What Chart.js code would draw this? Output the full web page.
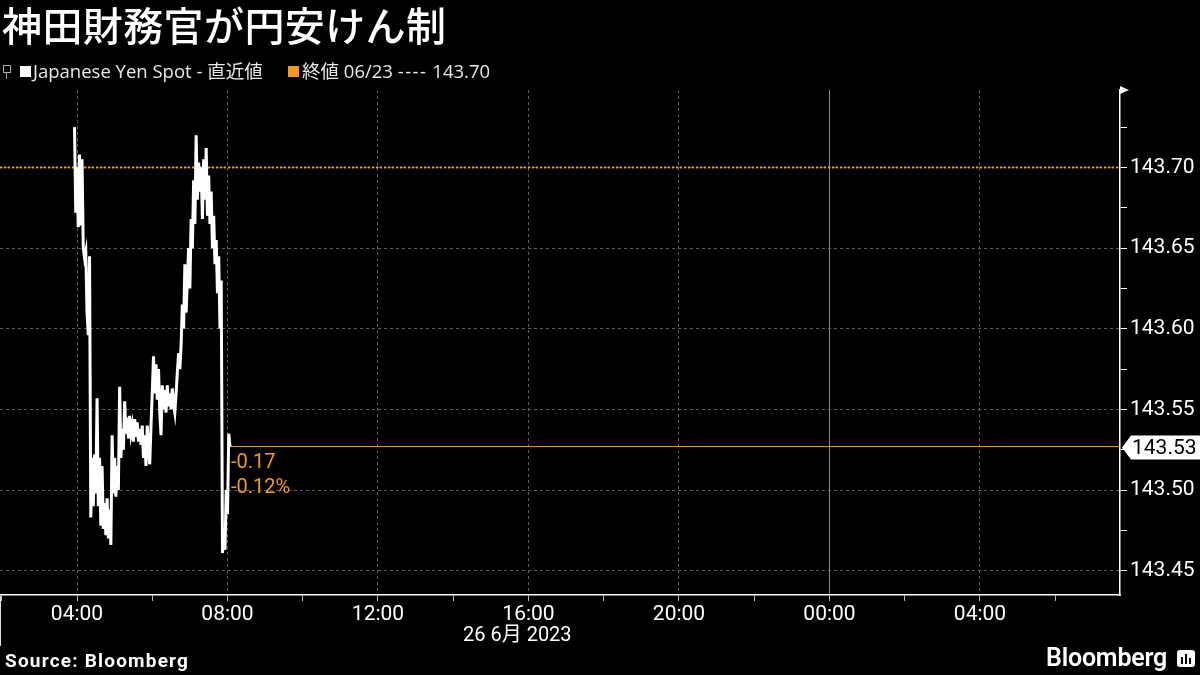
<!DOCTYPE html>
<html>
<head>
<meta charset="utf-8">
<script src="https://cdn.jsdelivr.net/npm/chart.js@4.4.0/dist/chart.umd.min.js"></script>
<style>
  html, body { margin:0; padding:0; background:#000; }
  body { width:1200px; height:675px; overflow:hidden; position:relative; font-family: Roboto, "Noto Sans CJK JP", sans-serif; }
  .abs { position:absolute; white-space:nowrap; }
  #c { position:absolute; left:0; top:0; }
</style>
</head>
<body>
<canvas id="c" width="1200" height="675"></canvas>
<div class="abs" style="left:2px;top:-5px;font:500 40px 'Noto Sans CJK JP';color:#fff;letter-spacing:0.4px;">神田財務官が円安けん制</div>
<div class="abs" style="left:3px;top:65px;width:6px;height:6px;border:1px solid #aaa;"></div>
<div class="abs" style="left:6px;top:73px;width:1px;height:6px;background:#aaa;"></div>
<div class="abs" style="left:20px;top:66px;width:11px;height:11px;background:#fff;"></div>
<div class="abs" style="left:33px;top:58px;font:18.5px 'Open Sans','Noto Sans CJK JP';color:#e8e8e8;line-height:25px;">Japanese Yen Spot - 直近値</div>
<div class="abs" style="left:288px;top:66px;width:11px;height:11px;background:#f39a1e;"></div>
<div class="abs" style="left:302px;top:58px;font:18.5px 'Open Sans','Noto Sans CJK JP';color:#e8e8e8;line-height:25px;">終値 06/23 <span style="letter-spacing:1.5px">----</span> 143.70</div>
<div class="abs" style="left:0px;top:596px;width:1px;height:50px;background:#ddd;"></div>
<div class="abs" style="left:463px;top:621px;font:20px Roboto,'Noto Sans CJK JP';color:#fff;line-height:26px;">26 6月 2023</div>
<div class="abs" style="left:5px;top:650px;font:bold 19px Roboto;color:#fff;line-height:22px;letter-spacing:1.2px;">Source: Bloomberg</div>
<div class="abs" style="left:1046px;top:644px;font:600 25px Roboto;color:#fff;line-height:28px;letter-spacing:-0.2px;">Bloomberg</div>
<div class="abs" style="left:1177px;top:650px;width:18px;height:17px;background:#fff;border-radius:3px;">
  <div class="abs" style="left:4px;top:7px;width:2px;height:7px;background:#000;"></div>
  <div class="abs" style="left:8px;top:4px;width:2px;height:10px;background:#000;"></div>
  <div class="abs" style="left:12px;top:8px;width:2px;height:6px;background:#000;"></div>
</div>
<script>
// ---- data (minutes since 00:00, 26 June 2023) ----
const startMinute = 236;
const stepMinutes = 2;
const prices = [
  143.725,143.672,143.700,143.663,143.708,143.664,143.705,143.650,143.644,143.648,
  143.610,143.596,143.645,143.483,143.520,143.490,143.522,143.498,143.557,143.490,
  143.520,143.478,143.515,143.476,143.492,143.472,143.495,143.470,143.488,143.466,
  143.534,143.498,143.520,143.496,143.515,143.500,143.564,143.520,143.538,143.525,
  143.555,143.535,143.545,143.532,143.546,143.535,143.540,143.530,143.544,143.533,
  143.542,143.530,143.538,143.528,143.540,143.520,143.534,143.515,143.540,143.525,
  143.516,143.540,143.560,143.583,143.560,143.578,143.556,143.575,143.548,143.534,
  143.565,143.550,143.562,143.548,143.565,143.552,143.560,143.550,143.563,143.553,
  143.548,143.560,143.573,143.585,143.575,143.590,143.615,143.600,143.640,143.610,
  143.630,143.650,143.625,143.668,143.650,143.692,143.665,143.720,143.680,143.703,
  143.685,143.700,143.668,143.705,143.680,143.712,143.670,143.695,143.665,143.685,
  143.650,143.670,143.640,143.655,143.622,143.645,143.600,143.630,143.461,143.475,
  143.463,143.500,143.485,143.535,143.527
];
const prevClose = 143.70;
const xMin = 117.2, xMax = 1903.3;
const yMin = 143.435, yMax = 143.748;
const xTicks = [120, 240, 360, 480, 600, 720, 840, 960, 1080, 1200, 1320, 1440, 1560, 1680, 1800];
const xMajorTicks = [240, 480, 720, 960, 1200, 1440, 1680];
const xTickLabels = ['04:00', '08:00', '12:00', '16:00', '20:00', '00:00', '04:00'];
const dayBoundary = 1440;
const yTicks = [143.45, 143.475, 143.50, 143.525, 143.55, 143.575, 143.60, 143.625, 143.65, 143.675, 143.70, 143.725];
const yMajorTicks = [143.45, 143.50, 143.55, 143.60, 143.65, 143.70];

const ORANGE = '#f39a1e';
const series = prices.map((v, i) => ({ x: startMinute + i * stepMinutes, y: v }));
const lastPt = series[series.length - 1];
const lastVal = lastPt.y;

const overlay = {
  id: 'overlay',
  afterDatasetsDraw(chart) {
    const { ctx, chartArea, scales: { x, y } } = chart;
    ctx.save();
    ctx.fillStyle = '#fff';
    ctx.beginPath();
    ctx.moveTo(chartArea.right, chartArea.top - 4);
    ctx.lineTo(chartArea.right + 9, chartArea.top);
    ctx.lineTo(chartArea.right, chartArea.top + 4);
    ctx.closePath();
    ctx.fill();
    const ly = Math.round(y.getPixelForValue(lastVal)) + 0.5;
    const rx = chartArea.right;
    ctx.beginPath();
    ctx.moveTo(rx + 2, ly);
    ctx.lineTo(rx + 11, ly - 12);
    ctx.lineTo(1200, ly - 12);
    ctx.lineTo(1200, ly + 12);
    ctx.lineTo(rx + 11, ly + 12);
    ctx.closePath();
    ctx.fill();
    ctx.fillStyle = '#000';
    ctx.font = '21px Roboto';
    ctx.textAlign = 'left';
    ctx.textBaseline = 'middle';
    ctx.fillText(lastVal.toFixed(2), rx + 12, ly + 1);
    const lx = x.getPixelForValue(lastPt.x);
    const diff = lastVal - prevClose;
    const pct = diff / prevClose * 100;
    ctx.fillStyle = ORANGE;
    ctx.font = '20px Roboto';
    ctx.fillText(diff.toFixed(2), lx + 1, ly + 15);
    ctx.fillText(pct.toFixed(2) + '%', lx + 1, ly + 40);
    ctx.restore();
  }
};

const isMajorY = v => yMajorTicks.some(m => Math.abs(m - v) < 1e-6);

new Chart(document.getElementById('c'), {
  type: 'line',
  data: {
    datasets: [
      { data: series, borderColor: '#fff', borderWidth: 3, pointRadius: 0, tension: 0, order: 0 },
      { data: [{ x: xMin, y: prevClose }, { x: xMax, y: prevClose }], borderColor: ORANGE, borderWidth: 2, borderDash: [2, 2], pointRadius: 0, order: 2 },
      { data: [{ x: lastPt.x, y: lastVal }, { x: xMax, y: lastVal }], borderColor: '#e89a55', borderWidth: 1, pointRadius: 0, order: 1 }
    ]
  },
  options: {
    responsive: false,
    animation: false,
    devicePixelRatio: 1,
    layout: { padding: { top: 90, left: 0, right: 0, bottom: 0 } },
    plugins: { legend: { display: false }, tooltip: { enabled: false } },
    scales: {
      x: {
        type: 'linear', min: xMin, max: xMax,
        afterFit: s => { s.height = 80; },
        afterBuildTicks: s => { s.ticks = xTicks.map(v => ({ value: v })); },
        ticks: {
          autoSkip: false, maxRotation: 0,
          color: '#fff', font: { family: 'Roboto', size: 21 }, padding: 1,
          callback: v => { const k = xMajorTicks.indexOf(v); return k >= 0 ? xTickLabels[k] : ''; }
        },
        grid: {
          color: c => c.tick && c.tick.value === dayBoundary ? '#8a8a8a' : (c.tick && xMajorTicks.includes(c.tick.value) ? '#5e5e5e' : 'rgba(0,0,0,0)'),
          lineWidth: 1, tickColor: '#bbb', tickLength: 6, drawTicks: true
        },
        border: { display: true, color: '#fff', width: 1.5, dash: c => (c.tick && c.tick.value === dayBoundary) ? [] : [3, 3] }
      },
      y: {
        type: 'linear', position: 'right', min: yMin, max: yMax,
        afterFit: s => { s.width = 80; },
        afterBuildTicks: s => { s.ticks = yTicks.map(v => ({ value: v })); },
        ticks: {
          autoSkip: false,
          color: '#fff', font: { family: 'Roboto', size: 21 }, padding: 3,
          callback: v => isMajorY(v) ? v.toFixed(2) : ''
        },
        grid: {
          color: c => (c.tick && isMajorY(c.tick.value)) ? '#5e5e5e' : 'rgba(0,0,0,0)',
          lineWidth: 1, tickColor: '#fff', tickLength: 7
        },
        border: { display: true, color: '#fff', width: 1.5, dash: [3, 3] }
      }
    }
  },
  plugins: [overlay]
});
</script>
</body>
</html>
